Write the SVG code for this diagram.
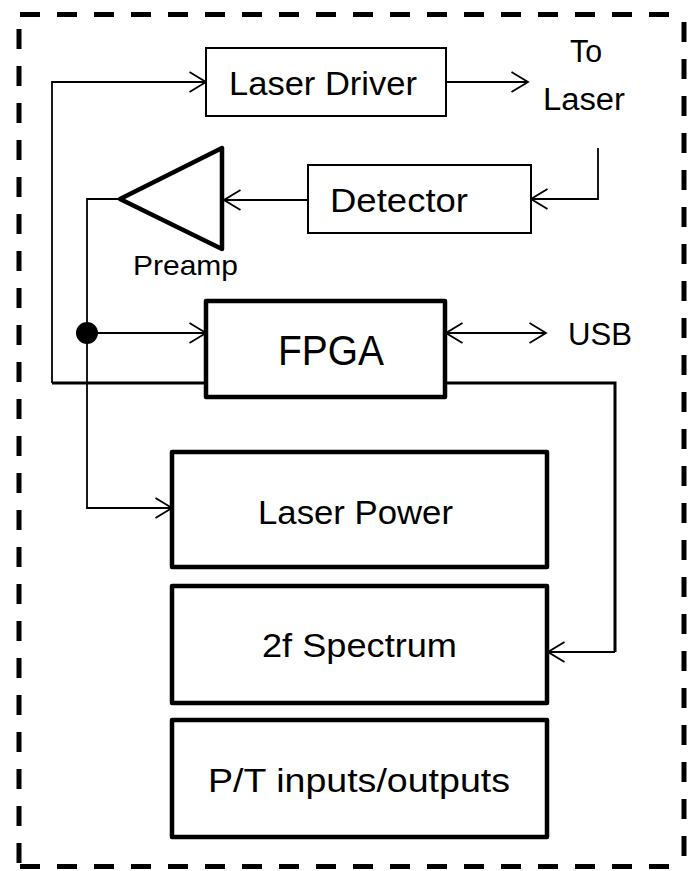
<svg xmlns="http://www.w3.org/2000/svg" width="691" height="871" viewBox="0 0 691 871">
<style>
text{font-family:"Liberation Sans",Arial,sans-serif;fill:#000}
.lbl{font-size:34px}
.thin{fill:#fff;stroke:#000;stroke-width:2}
.thick{fill:#fff;stroke:#000;stroke-width:4.5;stroke-linejoin:round}
.c{fill:none;stroke:#000;stroke-width:1.8}
.c3{fill:none;stroke:#000;stroke-width:3}
.border{fill:none;stroke:#000;stroke-width:5;stroke-dasharray:20 17}
</style>
<defs>
<marker id="arr" markerUnits="userSpaceOnUse" viewBox="0 0 19 22" refX="17.5" refY="11" markerWidth="19" markerHeight="22" orient="auto-start-reverse">
<path d="M1,1 L17.5,11 L1,21" fill="none" stroke="#000" stroke-width="1.8"/>
</marker>
</defs>
<g id="border">
<line class="border" x1="20" y1="14.5" x2="684" y2="14.5"/>
<line class="border" x1="19" y1="29" x2="19" y2="867"/>
<line class="border" x1="684" y1="22" x2="684" y2="867"/>
<line class="border" x1="20" y1="866.5" x2="684" y2="866.5"/>
</g>
<g id="connectors">
<path class="c3" d="M206,383 H52"/>
<path class="c" d="M52,383 V82 H206" marker-end="url(#arr)"/>
<path class="c" d="M446,82 H528" marker-end="url(#arr)"/>
<path class="c" d="M598,148 V199 H531" marker-end="url(#arr)"/>
<path class="c" d="M308,200 H224" marker-end="url(#arr)"/>
<path class="c" d="M120,199 H87 V508 H172" marker-end="url(#arr)"/>
<path class="c" d="M87,333 H206" marker-end="url(#arr)"/>
<path class="c" d="M446,333 H546" marker-start="url(#arr)" marker-end="url(#arr)"/>
<path class="c3" d="M445,383 H615 V652"/>
<path class="c" d="M615,652 H548" marker-end="url(#arr)"/>
<circle cx="87" cy="333" r="11" fill="#000"/>
</g>
<g id="laser-driver">
<rect class="thin" x="206" y="48" width="240" height="68"/>
<text class="lbl" x="229" y="95" textLength="188" lengthAdjust="spacingAndGlyphs">Laser Driver</text>
</g>
<g id="to-laser">
<text x="570" y="62" font-size="31" textLength="32" lengthAdjust="spacingAndGlyphs">To</text>
<text x="543" y="110" font-size="31" textLength="82" lengthAdjust="spacingAndGlyphs">Laser</text>
</g>
<g id="detector">
<rect class="thin" x="308" y="165" width="223" height="68"/>
<text class="lbl" x="330" y="212" textLength="138" lengthAdjust="spacingAndGlyphs">Detector</text>
</g>
<g id="preamp">
<polygon class="thick" points="120,199 222,148 222,249"/>
<text x="133" y="275" font-size="28" textLength="105" lengthAdjust="spacingAndGlyphs">Preamp</text>
</g>
<g id="fpga">
<rect class="thick" x="206" y="301" width="239" height="96"/>
<text x="278" y="365" font-size="43" textLength="106" lengthAdjust="spacingAndGlyphs">FPGA</text>
</g>
<g id="usb">
<text x="568" y="345" font-size="31" textLength="64" lengthAdjust="spacingAndGlyphs">USB</text>
</g>
<g id="laser-power">
<rect class="thick" x="172" y="452" width="375" height="115"/>
<text class="lbl" x="258" y="524" textLength="195" lengthAdjust="spacingAndGlyphs">Laser Power</text>
</g>
<g id="spectrum">
<rect class="thick" x="172" y="586" width="375" height="117"/>
<text class="lbl" x="262" y="657" textLength="195" lengthAdjust="spacingAndGlyphs">2f Spectrum</text>
</g>
<g id="pt-io">
<rect class="thick" x="172" y="720" width="375" height="117"/>
<text class="lbl" x="208" y="792" textLength="302" lengthAdjust="spacingAndGlyphs">P/T inputs/outputs</text>
</g>
</svg>
